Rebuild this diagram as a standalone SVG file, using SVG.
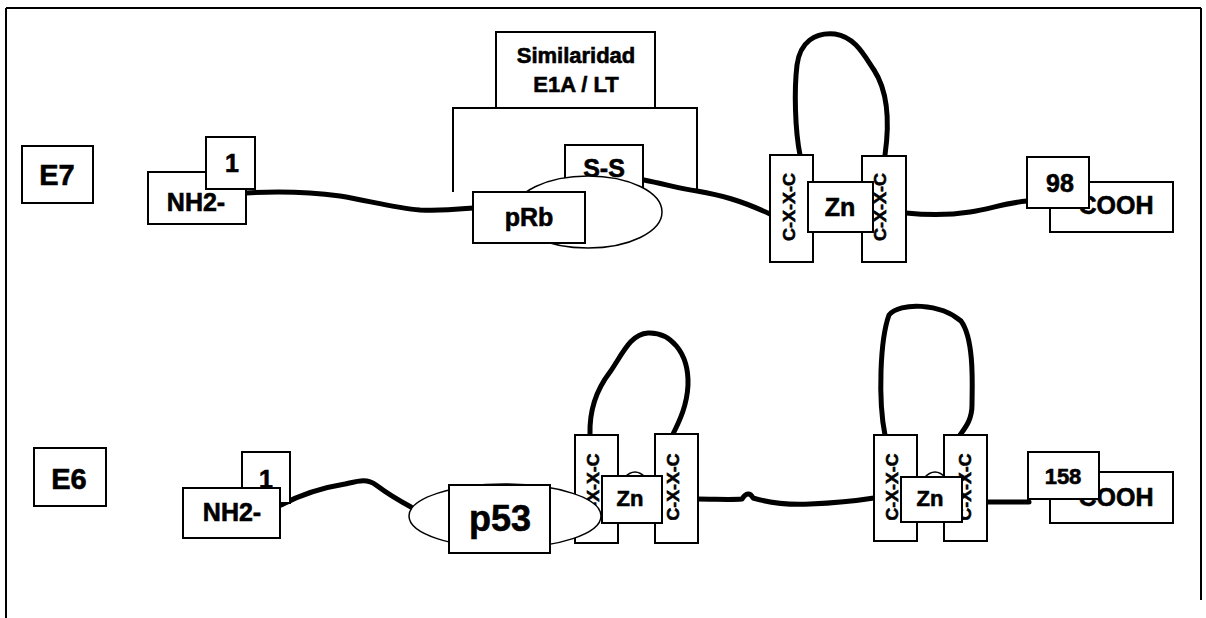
<svg xmlns="http://www.w3.org/2000/svg" width="1206" height="618" viewBox="0 0 1206 618">
<style>
.box{fill:#fff;stroke:#000;stroke-width:2}
.thin{fill:#fff;stroke:#000;stroke-width:1.5}
.chain{fill:none;stroke:#000;stroke-width:5;stroke-linecap:round;stroke-linejoin:round}
.frame{fill:none;stroke:#000;stroke-width:2}
text{font-family:"Liberation Sans",Arial,sans-serif;font-weight:bold;fill:#000;stroke:#000;stroke-width:0.6}
.lbl{font-size:29px;text-anchor:middle}
.med{font-size:25px;text-anchor:middle}
.sm{font-size:22px;text-anchor:middle}
.cxc{font-size:17px;text-anchor:middle}
</style>
<rect width="1206" height="618" fill="#fff"/>
<g id="frame">
<path class="frame" d="M6,8 L1201,8 M6,8 L6,618 M1201,8 L1201,600"/>
</g>
<g id="connectors">
<path class="chain" d="M246,193 C280,191 310,192 340,196 C370,201 395,208 420,210 C445,211 460,209 473,208"/>
<path class="chain" d="M644,180 C665,184 680,189 697,191 C720,195 740,200 770,214"/>
<path class="chain" d="M800,155 C795,130 794,90 797,65 C800,42 815,32 835,34 C855,37 864,55 874,70 C887,90 890,120 885,155"/>
<path class="chain" d="M906,213 C925,215 945,216 970,212 C990,209 1005,203 1027,201"/>
<path class="chain" d="M281,505 C300,495 320,488 345,484 C358,481 367,478 376,485 C388,494 398,500 411,507"/>
<path class="chain" d="M590,435 C589,405 600,385 610,372 C622,355 630,334 648,333 C670,332 689,352 688,385 C687,405 680,420 673,434"/>
<path class="chain" d="M698,499 C715,499 730,500 742,499 C746,493 750,492 753,498 C770,503 790,505 810,504 C835,503 855,501 874,498"/>
<path class="chain" d="M885,435 C878,400 880,340 889,315 C900,302 940,303 961,321 C975,340 972,390 972,405 C972,420 965,428 960,435"/>
<path class="chain" d="M987,502 L1029,502"/>
</g>
<g id="E7-label"><rect class="box" x="22" y="146" width="71" height="57"/><text class="lbl" x="57" y="185">E7</text></g>
<g id="E7-NH2"><rect class="box" x="148" y="172" width="98" height="52"/><text class="med" x="196" y="211">NH2-</text></g>
<g id="E7-1"><rect class="box" x="206" y="137" width="49" height="52"/><text class="med" x="232" y="172">1</text></g>
<g id="E7-similaridad">
<rect class="box" x="496" y="32" width="159" height="76"/>
<text class="sm" x="576" y="63">Similaridad</text>
<text class="sm" x="576" y="92">E1A / LT</text>
<path class="frame" d="M453,192 L453,108 L697,108 L697,190"/>
</g>
<g id="E7-SS"><rect class="box" x="565" y="145" width="78" height="45"/><text class="med" x="604" y="177">S-S</text></g>
<g id="E7-pRb-ellipse"><ellipse class="thin" cx="588" cy="212" rx="74" ry="36"/></g>
<g id="E7-pRb"><rect class="box" x="473" y="192" width="112" height="51"/><text class="med" x="529" y="226">pRb</text></g>
<g id="E7-cxc1"><rect class="box" x="770" y="155" width="43" height="107"/><text class="cxc" transform="translate(795,207) rotate(-90)" textLength="68" lengthAdjust="spacingAndGlyphs">C-X-X-C</text></g>
<g id="E7-cxc2"><rect class="box" x="862" y="156" width="44" height="106"/><text class="cxc" transform="translate(886,207) rotate(-90)" textLength="68" lengthAdjust="spacingAndGlyphs">C-X-X-C</text></g>
<g id="E7-Zn"><rect class="box" x="808" y="182" width="65" height="50"/><text class="med" x="840" y="216">Zn</text></g>
<g id="E7-COOH"><rect class="box" x="1050" y="182" width="123" height="50"/><text class="med" x="1116" y="214">COOH</text></g>
<g id="E7-98"><rect class="box" x="1027" y="157" width="62" height="51"/><text class="med" x="1060" y="192">98</text></g>

<g id="E6-label"><rect class="box" x="34" y="448" width="72" height="58"/><text class="lbl" x="69" y="489">E6</text></g>
<g id="E6-1"><rect class="box" x="242" y="452" width="48" height="51"/><text class="med" x="266" y="488">1</text></g>
<g id="E6-NH2"><rect class="box" x="183" y="488" width="97" height="50"/><text class="med" x="232" y="521">NH2-</text></g>
<g id="E6-cxc1"><rect class="box" x="575" y="435" width="43" height="108"/><text class="cxc" transform="translate(599,487) rotate(-90)" textLength="67" lengthAdjust="spacingAndGlyphs">C-X-X-C</text></g>
<g id="E6-p53-ellipse"><ellipse class="thin" cx="505" cy="516" rx="96" ry="32"/></g>
<g id="E6-p53"><rect class="box" x="449" y="485" width="101" height="68"/><text x="500" y="531" style="font-size:36px;text-anchor:middle">p53</text></g>
<g id="E6-cxc2"><rect class="box" x="655" y="434" width="43" height="109"/><text class="cxc" transform="translate(679,487) rotate(-90)" textLength="67" lengthAdjust="spacingAndGlyphs">C-X-X-C</text></g>
<g id="E6-Zn1"><path class="thin" d="M624,478 Q635,466 646,478"/><rect class="box" x="602" y="476" width="60" height="47"/><text class="sm" x="630" y="506">Zn</text></g>
<g id="E6-cxc3"><rect class="box" x="874" y="435" width="43" height="106"/><text class="cxc" transform="translate(898,487) rotate(-90)" textLength="67" lengthAdjust="spacingAndGlyphs">C-X-X-C</text></g>
<g id="E6-cxc4"><rect class="box" x="944" y="435" width="43" height="106"/><text class="cxc" transform="translate(971,487) rotate(-90)" textLength="67" lengthAdjust="spacingAndGlyphs">C-X-X-C</text></g>
<g id="E6-Zn2"><path class="thin" d="M924,478 Q935,466 946,478"/><rect class="box" x="901" y="477" width="61" height="45"/><text class="sm" x="930" y="506">Zn</text></g>
<g id="E6-COOH"><rect class="box" x="1050" y="472" width="123" height="51"/><text class="med" x="1116" y="506">COOH</text></g>
<g id="E6-158"><rect class="box" x="1028" y="452" width="71" height="47"/><text class="sm" x="1063" y="484">158</text></g>
</svg>
